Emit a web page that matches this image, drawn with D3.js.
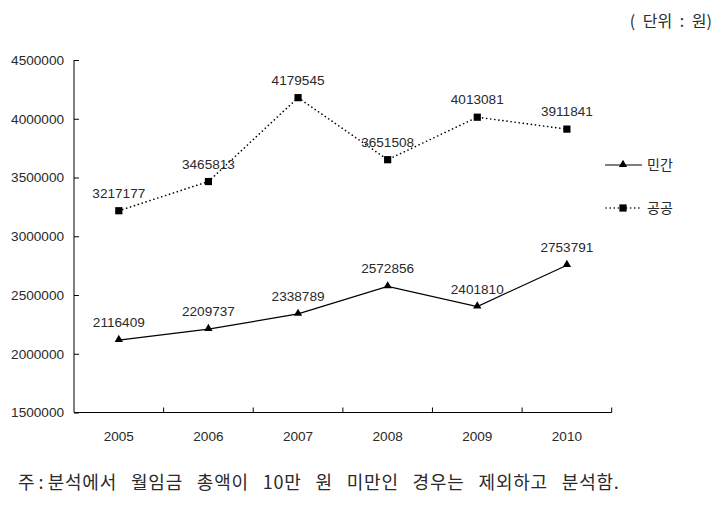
<!DOCTYPE html>
<html>
<head>
<meta charset="utf-8">
<script src="https://cdn.jsdelivr.net/npm/d3@7"></script>
<style>
  body { margin: 0; background: #fff; }
</style>
</head>
<body>
<div id="chart"></div>
<script>
// données du graphique
const years = ["2005", "2006", "2007", "2008", "2009", "2010"];
const minganValues = [2116409, 2209737, 2338789, 2572856, 2401810, 2753791];
const gonggongValues = [3217177, 3465813, 4179545, 3651508, 4013081, 3911841];
const seriesNames = ["민간", "공공"];
const yTicks = [1500000, 2000000, 2500000, 3000000, 3500000, 4000000, 4500000];
const unitLabel = "( 단위 : 원)";
const footnotePrefix = "주 : ";
const footnoteBody = "분석에서 월임금 총액이 10만 원 미만인 경우는 제외하고 분석함.";

function lineChart(w = 723, h = 509) {
  const svg = d3.create("svg")
    .attr("width", w)
    .attr("height", h)
    .attr("viewBox", [0, 0, w, h]);

  let margin = { top: 60, left: 74, right: 112, bottom: 97 };

  let x = d3.scaleBand()
    .domain(years)
    .range([margin.left, w - margin.right + 0.7])
    .padding(0);

  let y = d3.scaleLinear()
    .domain([1500000, 4500000])
    .range([h - margin.bottom + 0.5, margin.top]);

  const numFont = "'Liberation Sans', Arial, sans-serif";
  const korFont = "'Noto Sans CJK KR', sans-serif";
  const numSize = "13.6px";
  const textCol = "#2a2a2a";

  // axe des y (graduations vers l'intérieur)
  const yAxis = svg.append("g")
    .attr("transform", `translate(${margin.left},0)`)
    .call(d3.axisLeft(y).tickValues(yTicks).tickFormat(d3.format("d")).tickSize(-5).tickPadding(10));
  yAxis.select(".domain").attr("d", `M0,${y(4500000)}V${y(1500000)}`).attr("stroke", "#000");
  yAxis.selectAll(".tick line").attr("stroke", "#000");
  yAxis.selectAll(".tick text")
    .attr("x", -10)
    .style("font-family", numFont)
    .style("font-size", numSize)
    .attr("fill", textCol);

  // axe des x : graduations aux limites des catégories
  const xAxisY = y(1500000);
  const gx = svg.append("g");
  gx.append("line")
    .attr("x1", x.range()[0]).attr("x2", x.range()[1])
    .attr("y1", xAxisY).attr("y2", xAxisY)
    .attr("stroke", "#000");
  const bounds = years.map(d => x(d) + x.bandwidth());
  gx.selectAll("line.tk")
    .data(bounds)
    .enter()
    .append("line")
    .attr("class", "tk")
    .attr("x1", d => d).attr("x2", d => d)
    .attr("y1", xAxisY).attr("y2", xAxisY - 5)
    .attr("stroke", "#000");
  gx.selectAll("text")
    .data(years)
    .enter()
    .append("text")
    .attr("x", d => x(d) + x.bandwidth() / 2)
    .attr("y", xAxisY + 28)
    .attr("text-anchor", "middle")
    .style("font-family", numFont)
    .style("font-size", numSize)
    .attr("fill", textCol)
    .text(d => d);

  const cx = d => x(d) + x.bandwidth() / 2;
  const line = d3.line()
    .x((d, i) => cx(years[i]))
    .y(d => y(d));

  // série 공공 (pointillés, carrés)
  svg.append("path")
    .datum(gonggongValues)
    .attr("d", line)
    .attr("fill", "none")
    .attr("stroke", "#000")
    .attr("stroke-width", 1.6)
    .attr("stroke-linecap", "round")
    .attr("stroke-dasharray", "0.1,4");
  // série 민간 (trait plein, triangles)
  svg.append("path")
    .datum(minganValues)
    .attr("d", line)
    .attr("fill", "none")
    .attr("stroke", "#000")
    .attr("stroke-width", 1.2);

  const square = d3.symbol(d3.symbolSquare, 52);
  const triangle = d3.symbol(d3.symbolTriangle, 30);

  svg.append("g").selectAll("path")
    .data(gonggongValues)
    .enter()
    .append("path")
    .attr("d", square)
    .attr("transform", (d, i) => `translate(${cx(years[i])},${y(d)})`)
    .attr("fill", "#000");
  svg.append("g").selectAll("path")
    .data(minganValues)
    .enter()
    .append("path")
    .attr("d", triangle)
    .attr("transform", (d, i) => `translate(${cx(years[i])},${y(d) - 0.5})`)
    .attr("fill", "#000");

  // étiquettes de valeurs
  [gonggongValues, minganValues].forEach(vals => {
    svg.append("g").selectAll("text")
      .data(vals)
      .enter()
      .append("text")
      .attr("x", (d, i) => cx(years[i]))
      .attr("y", d => y(d) - 13)
      .attr("text-anchor", "middle")
      .style("font-family", numFont)
      .style("font-size", numSize)
      .attr("fill", textCol)
      .text(d => d);
  });

  // légende
  const legend = svg.append("g").attr("transform", "translate(605,0)");
  const legendY = [165, 208];
  legend.append("line")
    .attr("x1", 0).attr("x2", 37).attr("y1", legendY[0]).attr("y2", legendY[0])
    .attr("stroke", "#000").attr("stroke-width", 1.2);
  legend.append("path")
    .attr("d", triangle)
    .attr("transform", `translate(18,${legendY[0] - 0.5})`);
  legend.append("line")
    .attr("x1", 1).attr("x2", 37).attr("y1", legendY[1]).attr("y2", legendY[1])
    .attr("stroke", "#000").attr("stroke-width", 1.6)
    .attr("stroke-linecap", "round")
    .attr("stroke-dasharray", "0.1,4");
  legend.append("path")
    .attr("d", square)
    .attr("transform", `translate(18,${legendY[1]})`);
  legend.selectAll("text")
    .data(seriesNames)
    .enter()
    .append("text")
    .attr("x", 42)
    .attr("y", (d, i) => legendY[i])
    .attr("dy", "0.36em")
    .style("font-family", korFont)
    .style("font-size", "14px")
    .attr("fill", textCol)
    .text(d => d);

  // unité
  svg.append("text")
    .attr("x", 712)
    .attr("y", 27)
    .attr("text-anchor", "end")
    .style("font-family", korFont)
    .style("font-size", "16px")
    .style("word-spacing", "4px")
    .attr("fill", textCol)
    .text(unitLabel);

  // note de bas de page
  const note = svg.append("text")
    .attr("x", 18)
    .attr("y", 489)
    .style("font-family", korFont)
    .style("font-size", "18px")
    .attr("fill", textCol);
  note.append("tspan").text(footnotePrefix);
  note.append("tspan")
    .style("word-spacing", "9px")
    .style("letter-spacing", "0.8px")
    .text(footnoteBody);

  return svg.node();
}

document.getElementById("chart").appendChild(lineChart());
</script>
</body>
</html>
